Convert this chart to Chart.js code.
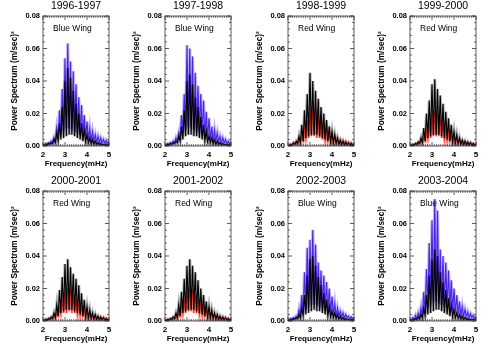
<!DOCTYPE html>
<html>
<head>
<meta charset="utf-8">
<script src="https://cdn.jsdelivr.net/npm/chart.js@4"></script>
<style>
  html, body { margin: 0; padding: 0; background: #fff; }
  #wrap { position: relative; width: 490px; height: 350px; overflow: hidden; }
  #wrap canvas { position: absolute; }
</style>
</head>
<body>
<div id="wrap"></div>
<script>
// panel labels
const periods = ["1996-1997", "1997-1998", "1998-1999", "1999-2000",
                 "2000-2001", "2001-2002", "2002-2003", "2003-2004"];
const wings = ["Blue Wing", "Blue Wing", "Red Wing", "Red Wing",
               "Red Wing", "Red Wing", "Blue Wing", "Blue Wing"];

// frequencies (mHz) of the spectral peaks and the dips between them
const peakFreqs = [2.000, 2.125, 2.250, 2.375, 2.500, 2.625, 2.750, 2.875, 3.000,
                   3.125, 3.250, 3.375, 3.500, 3.625, 3.750, 3.875, 4.000, 4.125,
                   4.250, 4.375, 4.500, 4.625, 4.750, 4.875, 5.000];
const dipFreqs = [2.0625, 2.1875, 2.3125, 2.4375, 2.5625, 2.6875, 2.8125, 2.9375,
                  3.0625, 3.1875, 3.3125, 3.4375, 3.5625, 3.6875, 3.8125, 3.9375,
                  4.0625, 4.1875, 4.3125, 4.4375, 4.5625, 4.6875, 4.8125, 4.9375];

const xTicks = [2, 3, 4, 5];
const yTicks = [0, 0.02, 0.04, 0.06, 0.08];

// power spectrum (m/sec)^2 : wing peaks / dips, core (black) peaks / dips
const wingPeaks9697 = [0.001,0.0015,0.002,0.003,0.005,0.011,0.022,0.035,0.054,0.063,0.052,0.046,0.038,0.030,0.025,0.019,0.015,0.011,0.009,0.007,0.006,0.005,0.004,0.0035,0.003];
const wingDips9697  = [0.0005,0.001,0.0015,0.002,0.003,0.005,0.007,0.009,0.011,0.011,0.010,0.009,0.008,0.007,0.006,0.005,0.004,0.003,0.003,0.0025,0.002,0.002,0.0015,0.0015];
const corePeaks9697 = [0.0005,0.001,0.0015,0.002,0.004,0.008,0.014,0.024,0.040,0.048,0.042,0.034,0.026,0.020,0.014,0.010,0.007,0.005,0.004,0.003,0.002,0.0015,0.001,0.001,0.001];
const coreDips9697  = [0.0003,0.0005,0.001,0.0015,0.002,0.003,0.004,0.005,0.006,0.007,0.007,0.006,0.005,0.004,0.003,0.0025,0.002,0.0015,0.001,0.001,0.0008,0.0006,0.0005,0.0005];

const wingPeaks9798 = [0.001,0.0015,0.002,0.003,0.005,0.008,0.019,0.032,0.062,0.060,0.055,0.045,0.037,0.032,0.028,0.021,0.017,0.012,0.010,0.008,0.006,0.005,0.004,0.003,0.0027];
const wingDips9798  = [0.0005,0.001,0.0015,0.002,0.003,0.005,0.008,0.010,0.012,0.011,0.010,0.009,0.008,0.007,0.006,0.005,0.004,0.003,0.003,0.0025,0.002,0.002,0.0015,0.0015];
const corePeaks9798 = [0.0005,0.001,0.0015,0.002,0.003,0.006,0.012,0.022,0.040,0.044,0.038,0.030,0.024,0.018,0.013,0.009,0.006,0.005,0.004,0.003,0.002,0.0015,0.001,0.001,0.001];
const coreDips9798  = [0.0003,0.0005,0.001,0.0015,0.002,0.003,0.004,0.006,0.007,0.007,0.006,0.006,0.005,0.004,0.003,0.0025,0.002,0.0015,0.001,0.001,0.0008,0.0006,0.0005,0.0005];

const wingPeaks9899 = [0.0005,0.001,0.0015,0.002,0.004,0.006,0.010,0.015,0.021,0.024,0.022,0.019,0.016,0.012,0.010,0.008,0.006,0.005,0.004,0.0035,0.003,0.0025,0.002,0.002,0.0015];
const wingDips9899  = [0.0003,0.0005,0.001,0.0015,0.002,0.003,0.004,0.005,0.006,0.006,0.005,0.005,0.004,0.003,0.003,0.0025,0.002,0.0015,0.0012,0.001,0.001,0.0008,0.0007,0.0006];
const corePeaks9899 = [0.0005,0.001,0.002,0.003,0.006,0.013,0.022,0.032,0.045,0.040,0.034,0.029,0.024,0.020,0.016,0.012,0.009,0.007,0.005,0.0035,0.003,0.0025,0.002,0.0015,0.001];
const coreDips9899  = [0.0003,0.0005,0.001,0.0015,0.002,0.003,0.005,0.006,0.007,0.007,0.007,0.006,0.005,0.004,0.003,0.0025,0.002,0.0015,0.001,0.001,0.0008,0.0006,0.0005,0.0005];

const wingPeaks9900 = [0.0005,0.001,0.0015,0.002,0.003,0.005,0.009,0.014,0.019,0.022,0.020,0.017,0.014,0.011,0.009,0.007,0.005,0.004,0.0035,0.003,0.0025,0.002,0.002,0.0015,0.0015];
const wingDips9900  = [0.0003,0.0005,0.001,0.0015,0.002,0.003,0.004,0.005,0.006,0.006,0.006,0.005,0.004,0.003,0.003,0.0025,0.002,0.0015,0.0012,0.001,0.001,0.0008,0.0007,0.0006];
const corePeaks9900 = [0.0005,0.001,0.0015,0.0025,0.005,0.011,0.020,0.028,0.038,0.041,0.035,0.031,0.026,0.021,0.017,0.013,0.009,0.007,0.005,0.0035,0.003,0.0025,0.002,0.0015,0.001];
const coreDips9900  = [0.0003,0.0005,0.001,0.0015,0.002,0.003,0.005,0.006,0.007,0.007,0.007,0.006,0.005,0.004,0.003,0.0025,0.002,0.0015,0.001,0.001,0.0008,0.0006,0.0005,0.0005];

const wingPeaks0001 = [0.0005,0.001,0.0015,0.002,0.003,0.005,0.008,0.013,0.018,0.020,0.019,0.016,0.013,0.011,0.009,0.007,0.005,0.004,0.0035,0.003,0.0025,0.002,0.002,0.0015,0.0015];
const wingDips0001  = [0.0003,0.0005,0.001,0.0015,0.002,0.003,0.004,0.005,0.005,0.006,0.005,0.005,0.004,0.003,0.003,0.0025,0.002,0.0015,0.0012,0.001,0.001,0.0008,0.0007,0.0006];
const corePeaks0001 = [0.0005,0.001,0.0015,0.0025,0.005,0.010,0.019,0.027,0.035,0.038,0.033,0.029,0.026,0.022,0.017,0.013,0.009,0.007,0.005,0.004,0.003,0.0025,0.002,0.0015,0.001];
const coreDips0001  = [0.0003,0.0005,0.001,0.0015,0.002,0.003,0.005,0.006,0.007,0.007,0.007,0.006,0.005,0.004,0.003,0.0025,0.002,0.0015,0.001,0.001,0.0008,0.0006,0.0005,0.0005];

const wingPeaks0102 = [0.0005,0.001,0.0015,0.002,0.003,0.005,0.009,0.013,0.018,0.021,0.019,0.016,0.013,0.011,0.009,0.007,0.005,0.004,0.0035,0.003,0.0025,0.002,0.002,0.0015,0.0015];
const wingDips0102  = [0.0003,0.0005,0.001,0.0015,0.002,0.003,0.004,0.005,0.006,0.006,0.005,0.005,0.004,0.003,0.003,0.0025,0.002,0.0015,0.0012,0.001,0.001,0.0008,0.0007,0.0006];
const corePeaks0102 = [0.0005,0.001,0.0015,0.0025,0.005,0.010,0.018,0.026,0.034,0.038,0.034,0.030,0.025,0.020,0.016,0.012,0.009,0.007,0.005,0.004,0.003,0.0025,0.002,0.0015,0.001];
const coreDips0102  = [0.0003,0.0005,0.001,0.0015,0.002,0.003,0.005,0.006,0.007,0.007,0.007,0.006,0.005,0.004,0.003,0.0025,0.002,0.0015,0.001,0.001,0.0008,0.0006,0.0005,0.0005];

const wingPeaks0203 = [0.001,0.0015,0.002,0.003,0.007,0.016,0.030,0.045,0.050,0.056,0.047,0.036,0.031,0.028,0.024,0.020,0.015,0.011,0.008,0.006,0.005,0.004,0.003,0.0025,0.002];
const wingDips0203  = [0.0005,0.001,0.0015,0.002,0.003,0.005,0.007,0.009,0.010,0.010,0.010,0.009,0.008,0.007,0.006,0.005,0.004,0.003,0.003,0.0025,0.002,0.002,0.0015,0.0015];
const corePeaks0203 = [0.0005,0.001,0.0015,0.002,0.004,0.008,0.016,0.028,0.038,0.040,0.034,0.027,0.022,0.017,0.013,0.009,0.006,0.005,0.004,0.003,0.002,0.0015,0.001,0.001,0.001];
const coreDips0203  = [0.0003,0.0005,0.001,0.0015,0.002,0.003,0.004,0.005,0.006,0.007,0.006,0.006,0.005,0.004,0.003,0.0025,0.002,0.0015,0.001,0.001,0.0008,0.0006,0.0005,0.0005];

const wingPeaks0304 = [0.001,0.002,0.0035,0.005,0.008,0.018,0.032,0.048,0.062,0.075,0.068,0.044,0.040,0.036,0.031,0.025,0.020,0.016,0.012,0.009,0.007,0.0055,0.0045,0.0035,0.003];
const wingDips0304  = [0.0005,0.001,0.0015,0.002,0.003,0.005,0.008,0.010,0.012,0.012,0.011,0.010,0.009,0.008,0.007,0.006,0.005,0.004,0.003,0.003,0.0025,0.002,0.002,0.0015];
const corePeaks0304 = [0.0005,0.001,0.0015,0.0025,0.004,0.008,0.016,0.028,0.038,0.044,0.040,0.030,0.024,0.019,0.014,0.010,0.007,0.005,0.004,0.003,0.002,0.0015,0.001,0.001,0.001];
const coreDips0304  = [0.0003,0.0005,0.001,0.0015,0.002,0.003,0.004,0.005,0.006,0.007,0.007,0.006,0.005,0.004,0.003,0.0025,0.002,0.0015,0.001,0.001,0.0008,0.0006,0.0005,0.0005];

const panels = [
  [wingPeaks9697, wingDips9697, corePeaks9697, coreDips9697],
  [wingPeaks9798, wingDips9798, corePeaks9798, coreDips9798],
  [wingPeaks9899, wingDips9899, corePeaks9899, coreDips9899],
  [wingPeaks9900, wingDips9900, corePeaks9900, coreDips9900],
  [wingPeaks0001, wingDips0001, corePeaks0001, coreDips0001],
  [wingPeaks0102, wingDips0102, corePeaks0102, coreDips0102],
  [wingPeaks0203, wingDips0203, corePeaks0203, coreDips0203],
  [wingPeaks0304, wingDips0304, corePeaks0304, coreDips0304]
];

const FONT = "'Liberation Sans', Arial, Helvetica, sans-serif";
const colLeft = [0, 122, 245, 367];
const rowTop = [0, 175];

function spiky(peaks, dips) {
  const pts = [];
  peaks.forEach((p, i) => {
    pts.push({ x: peakFreqs[i], y: p });
    if (i < dips.length) pts.push({ x: dipFreqs[i], y: dips[i] });
  });
  return pts;
}

// frame, inward ticks, year title and wing label
const decor = {
  id: "decor",
  afterDatasetsDraw(chart, args, opts) {
    const { ctx, chartArea: a, scales } = chart;
    ctx.save();
    ctx.strokeStyle = "#333";
    ctx.lineWidth = 0.8;
    ctx.strokeRect(a.left, a.top, a.right - a.left, a.bottom - a.top);
    ctx.beginPath();
    for (let v = 20; v <= 50; v++) {
      const x = scales.x.getPixelForValue(v / 10);
      const len = v % 10 === 0 ? 4 : 1.8;
      ctx.moveTo(x, a.bottom); ctx.lineTo(x, a.bottom - len);
      ctx.moveTo(x, a.top); ctx.lineTo(x, a.top + len);
    }
    for (let v = 0; v <= 20; v++) {
      const y = scales.y.getPixelForValue(v * 0.004);
      const len = v % 5 === 0 ? 4 : 1.8;
      ctx.moveTo(a.left, y); ctx.lineTo(a.left + len, y);
      ctx.moveTo(a.right, y); ctx.lineTo(a.right - len, y);
    }
    ctx.stroke();
    ctx.fillStyle = "#000";
    ctx.textAlign = "center";
    ctx.textBaseline = "middle";
    ctx.font = "10.5px " + FONT;
    ctx.fillText(opts.period, (a.left + a.right) / 2, 6.5);
    ctx.textAlign = "left";
    ctx.font = "8.5px " + FONT;
    ctx.fillText(opts.wing, a.left + 10, a.top + 13);
    ctx.restore();
  }
};

const wrap = document.getElementById("wrap");
periods.forEach((period, i) => {
  const [wp, wd, cp, cd] = panels[i];
  const blue = wings[i].startsWith("Blue");
  const wingColor = blue ? "#4b25e6" : "#ff2414";
  const wingHalo = blue ? "rgba(150,125,240,0.55)" : "rgba(255,140,130,0.55)";
  const shade = blue ? "rgba(150,130,240,0.35)" : "rgba(70,70,70,0.25)";
  const cv = document.createElement("canvas");
  cv.width = 122; cv.height = 175;
  cv.style.left = colLeft[i % 4] + "px";
  cv.style.top = rowTop[Math.floor(i / 4)] + "px";
  wrap.appendChild(cv);
  const wingData = spiky(wp, wd);
  const coreData = spiky(cp, cd);
  new Chart(cv, {
    type: "line",
    data: {
      datasets: [
        { data: coreData, borderColor: "#000", borderWidth: 1.1 },
        { data: wingData, borderColor: wingColor, borderWidth: 1.1 },
        { data: coreData, borderColor: "rgba(60,60,60,0.4)", borderWidth: 3 },
        { data: wingData, borderColor: wingHalo, borderWidth: 3.2,
          fill: { target: 2 }, backgroundColor: shade }
      ]
    },
    options: {
      responsive: false,
      animation: false,
      events: [],
      layout: { padding: { top: 16, right: 13, left: 0, bottom: 0 } },
      elements: { point: { radius: 0 }, line: { tension: 0 } },
      plugins: {
        legend: { display: false },
        tooltip: { enabled: false },
        decor: { period: period, wing: wings[i] }
      },
      scales: {
        x: {
          type: "linear", min: 2, max: 5,
          afterBuildTicks: s => { s.ticks = xTicks.map(v => ({ value: v })); },
          ticks: { color: "#000", font: { family: FONT, size: 8, weight: "bold" }, padding: 4, maxRotation: 0 },
          grid: { display: false, drawTicks: false },
          border: { display: false },
          title: { display: true, text: "Frequency(mHz)", color: "#000",
                   font: { family: FONT, size: 8, weight: "bold" }, padding: { top: 0, bottom: 6 } },
          afterFit: s => { s.height = 29; }
        },
        y: {
          min: 0, max: 0.08,
          afterBuildTicks: s => { s.ticks = yTicks.map(v => ({ value: v })); },
          ticks: { color: "#000", font: { family: FONT, size: 7.5, weight: "bold" }, padding: 3,
                   callback: v => v.toFixed(2) },
          grid: { display: false, drawTicks: false },
          border: { display: false },
          title: { display: true, text: "Power Spectrum (m/sec)²", color: "#000",
                   font: { family: FONT, size: 8.3, weight: "bold" }, padding: { top: 10, bottom: 0 } },
          afterFit: s => { s.width = 43; }
        }
      }
    },
    plugins: [decor]
  });
});
</script>
</body>
</html>
